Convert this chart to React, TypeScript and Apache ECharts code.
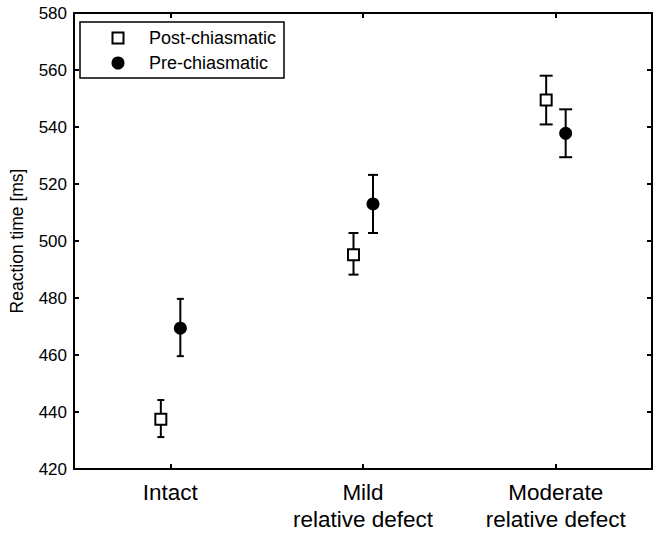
import React, { useEffect, useRef } from "react";
import * as echarts from "echarts";

const categories = ["Intact", "Mild\nrelative defect", "Moderate\nrelative defect"];
const yTicks = [420, 440, 460, 480, 500, 520, 540, 560, 580];

const postMean = [437.5, 495.2, 549.5];
const postLow = [431.2, 488.2, 540.9];
const postHigh = [444.2, 502.8, 558.0];

const preMean = [469.4, 513.0, 537.8];
const preLow = [459.6, 502.8, 529.4];
const preHigh = [479.7, 523.2, 546.2];

const seriesNames = ["Post-chiasmatic", "Pre-chiasmatic"];

const FONT = "'Liberation Sans', Arial, Helvetica, sans-serif";

function buildData(mean: number[], low: number[], high: number[]) {
  return mean.map((m, i) => [i, m, low[i], high[i]]);
}

function makeRender(offset: number, kind: "square" | "circle") {
  const capHalf = [3.5, 5, 6.5];
  return (params: any, api: any) => {
    const idx = api.value(0);
    const c = api.coord([idx, api.value(1)]);
    const lo = api.coord([idx, api.value(2)]);
    const hi = api.coord([idx, api.value(3)]);
    const x = c[0] + offset;
    const cw = capHalf[idx] ?? 5;
    const ls = { stroke: "#000", lineWidth: 2 };
    const children: any[] = [
      { type: "line", shape: { x1: x, y1: lo[1], x2: x, y2: hi[1] }, style: ls },
      { type: "line", shape: { x1: x - cw, y1: lo[1], x2: x + cw, y2: lo[1] }, style: ls },
      { type: "line", shape: { x1: x - cw, y1: hi[1], x2: x + cw, y2: hi[1] }, style: ls },
    ];
    if (kind === "square") {
      children.push({
        type: "rect",
        shape: { x: x - 5.5, y: c[1] - 5.5, width: 11, height: 11 },
        style: { fill: "#fff", stroke: "#000", lineWidth: 2 },
      });
    } else {
      children.push({
        type: "circle",
        shape: { cx: x, cy: c[1], r: 6.5 },
        style: { fill: "#000", stroke: "#000", lineWidth: 0 },
      });
    }
    return { type: "group", children };
  };
}

export default function App() {
  const ref = useRef<HTMLDivElement>(null);
  useEffect(() => {
    if (!ref.current) return;
    const chart = echarts.init(ref.current, null, { renderer: "svg" });
    const axisLine = { show: true, lineStyle: { color: "#000", width: 2 } };
    chart.setOption({
      animation: false,
      backgroundColor: "#fff",
      textStyle: { fontFamily: FONT },
      grid: { left: 71, right: 12, top: 13, bottom: 67, containLabel: false },
      xAxis: [
        {
          type: "category",
          data: categories,
          boundaryGap: true,
          axisLine,
          axisTick: { show: true, inside: true, alignWithLabel: true, length: 5, lineStyle: { color: "#000", width: 2 } },
          axisLabel: {
            color: "#000",
            fontSize: 22.5,
            lineHeight: 27,
            margin: 10,
            fontFamily: FONT,
            interval: 0,
          },
          splitLine: { show: false },
        },
        {
          type: "category",
          data: categories,
          position: "top",
          boundaryGap: true,
          axisLine,
          axisTick: { show: true, inside: true, alignWithLabel: true, length: 5, lineStyle: { color: "#000", width: 2 } },
          axisLabel: { show: false },
          splitLine: { show: false },
        },
      ],
      yAxis: [
        {
          type: "value",
          min: yTicks[0],
          max: yTicks[yTicks.length - 1],
          interval: 20,
          name: "Reaction time [ms]",
          nameLocation: "middle",
          nameGap: 48,
          nameTextStyle: { color: "#000", fontSize: 17.5, fontFamily: FONT },
          axisLine,
          axisTick: { show: true, inside: true, length: 5, lineStyle: { color: "#000", width: 2 } },
          axisLabel: { color: "#000", fontSize: 17, margin: 7, fontFamily: FONT },
          splitLine: { show: false },
        },
        {
          type: "value",
          position: "right",
          min: yTicks[0],
          max: yTicks[yTicks.length - 1],
          interval: 20,
          axisLine,
          axisTick: { show: true, inside: true, length: 5, lineStyle: { color: "#000", width: 2 } },
          axisLabel: { show: false },
          splitLine: { show: false },
        },
      ],
      series: [
        {
          name: seriesNames[0],
          type: "custom",
          xAxisIndex: 0,
          yAxisIndex: 0,
          renderItem: makeRender(-9.5, "square"),
          encode: { x: 0, y: [1, 2, 3] },
          data: buildData(postMean, postLow, postHigh),
          z: 3,
        },
        {
          name: seriesNames[1],
          type: "custom",
          xAxisIndex: 0,
          yAxisIndex: 0,
          renderItem: makeRender(10, "circle"),
          encode: { x: 0, y: [1, 2, 3] },
          data: buildData(preMean, preLow, preHigh),
          z: 3,
        },
      ],
      graphic: [
        {
          type: "rect",
          shape: { x: 80, y: 22, width: 204, height: 56 },
          style: { fill: "#fff", stroke: "#000", lineWidth: 1.5 },
          z: 10,
        },
        {
          type: "rect",
          shape: { x: 112.5, y: 32.5, width: 11, height: 11 },
          style: { fill: "#fff", stroke: "#000", lineWidth: 2 },
          z: 11,
        },
        {
          type: "circle",
          shape: { cx: 118, cy: 63, r: 6.5 },
          style: { fill: "#000" },
          z: 11,
        },
        {
          type: "text",
          x: 149,
          y: 38,
          style: { text: seriesNames[0], fill: "#000", font: `18px ${FONT}`, textVerticalAlign: "middle", verticalAlign: "middle" },
          z: 11,
        },
        {
          type: "text",
          x: 149,
          y: 63,
          style: { text: seriesNames[1], fill: "#000", font: `18px ${FONT}`, textVerticalAlign: "middle", verticalAlign: "middle" },
          z: 11,
        },
      ],
    });
    return () => chart.dispose();
  }, []);
  return (
    <div
      ref={ref}
      style={{ position: "fixed", left: 0, top: 0, width: 664, height: 536, background: "#fff" }}
    />
  );
}
